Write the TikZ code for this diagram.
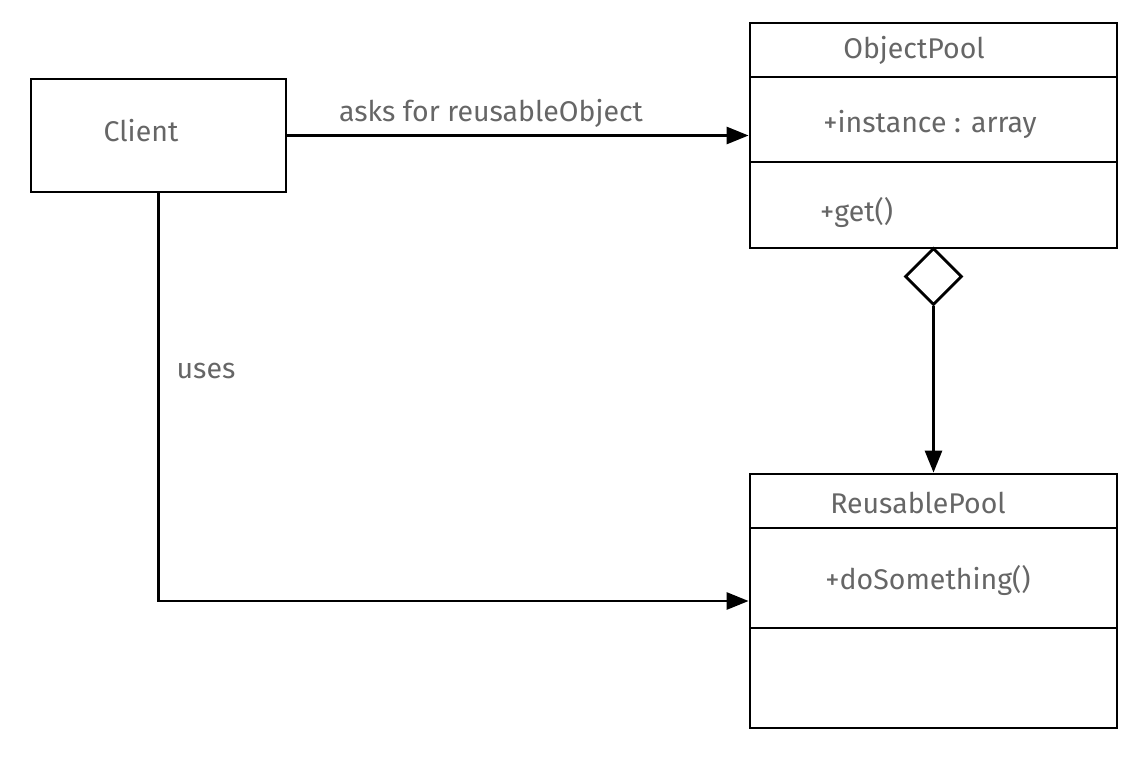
\documentclass[tikz,border=0pt]{standalone}
\usepackage{fontspec}
\setmainfont{Fira Sans}
\usetikzlibrary{arrows.meta,shapes.geometric}
\definecolor{txt}{HTML}{666666}
\tikzset{
  box/.style={draw=black, line width=2.8pt, rectangle, inner sep=0pt, fill=white},
  lbl/.style={text=txt, inner sep=0pt, font=\fontsize{28.5}{32}\selectfont, anchor=center},
  arr/.style={draw=black, line width=2.8pt, -{Triangle[length=22pt,width=17pt]}},
  sep/.style={draw=black, line width=2.8pt},
  aggr/.style={draw=black, line width=2.8pt, diamond, shape aspect=1, inner sep=0pt, minimum width=57pt, minimum height=57pt, fill=white}
}
\begin{document}
\begin{tikzpicture}[x=1pt,y=-1pt]
\useasboundingbox (0,0) rectangle (1146,758);
% boxes
\node[box, minimum width=255pt, minimum height=113pt] (client) at (158.5,135.5) {};
\node[box, minimum width=367pt, minimum height=225pt] (op) at (933.5,135.5) {};
\node[box, minimum width=367pt, minimum height=254pt] (rp) at (933.5,601) {};
% compartments
\coordinate (opa) at (750,77);  \coordinate (opb) at (1117,77);
\coordinate (opc) at (750,162); \coordinate (opd) at (1117,162);
\draw[sep] (opa) -- (opb);
\draw[sep] (opc) -- (opd);
\coordinate (rpa) at (750,528); \coordinate (rpb) at (1117,528);
\coordinate (rpc) at (750,628); \coordinate (rpd) at (1117,628);
\draw[sep] (rpa) -- (rpb);
\draw[sep] (rpc) -- (rpd);
% texts
\node[lbl] (clientT) at (141,131) {Client};
\node[lbl] (opT) at (914,50) {ObjectPool};
\node[lbl] (opAttr) at (930,124) {+instance : array};
\node[lbl, anchor=west] (opOp) at (820,212) {+get()};
\node[lbl] (rpT) at (918,503) {ReusablePool};
\node[lbl] (rpOp) at (928,580) {+doSomething()};
% connectors
\draw[arr] (client) -- node[lbl, yshift=22pt, xshift=-27pt] (askL) {asks for reusableObject} (op);
\draw[arr] (client.south) |- (rp.west);
\node[lbl] (usesL) at (206,371) {uses};
\node[aggr] (dia) at (933.5,276.5) {};
\draw[arr] (dia.south) -- (rp.north);
\end{tikzpicture}
\end{document}
